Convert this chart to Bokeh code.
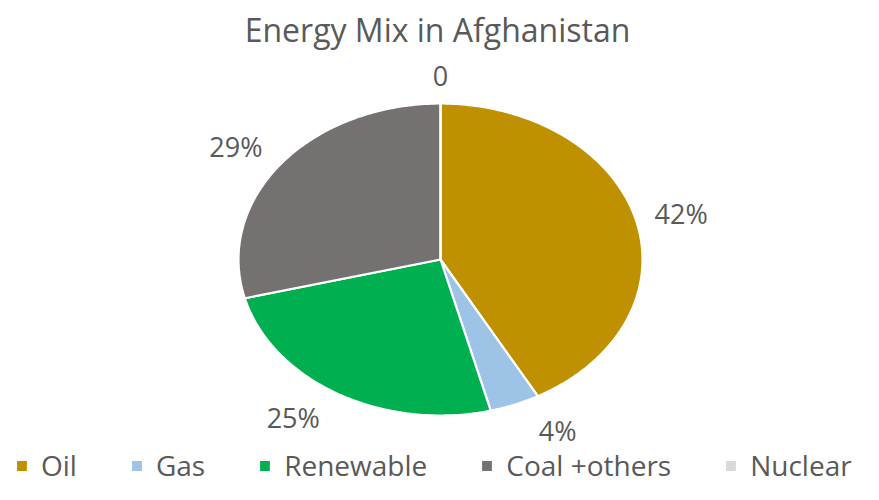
import numpy as np
from bokeh.plotting import figure
from bokeh.models import Range1d, Legend, LegendItem, Label, ColumnDataSource
from bokeh.core.properties import value
from bokeh.embed import file_html
from bokeh.resources import INLINE

# ---- data ----
title_text = "Energy Mix in Afghanistan"
categories = ["Oil", "Gas", "Renewable", "Coal +others", "Nuclear"]
shares = [42, 4, 25, 29, 0]
label_texts = ["42%", "4%", "25%", "29%", "0"]
colors = ["#BF9000", "#9DC3E6", "#00B050", "#767171", "#D9D9D9"]

# ---- layout ----
W, H = 863, 484
cx, cy = 440.0, 259.0
rx, ry = 202.0, 156.0
font = "Open Sans"
text_color = "#595959"

p = figure(width=W, height=H, output_backend="svg", toolbar_location=None,
           x_range=Range1d(0, W), y_range=Range1d(H, 0),
           min_border=0, outline_line_color=None)
p.axis.visible = False
p.grid.visible = False
p.background_fill_color = "white"

vals = np.array(shares, dtype=float)
fr = vals / vals.sum()
ends = np.cumsum(fr)
starts = ends - fr

renderers = []
for i, cat in enumerate(categories):
    n = max(2, int(fr[i] * 400) + 2)
    th = 2 * np.pi * np.linspace(starts[i], ends[i], n)
    xs = np.concatenate([[cx], cx + rx * np.sin(th)])
    ys = np.concatenate([[cy], cy - ry * np.cos(th)])
    r = p.patch(xs, ys, fill_color=colors[i], line_color="white", line_width=2.2)
    renderers.append(r)

# data labels positioned outside along slice mid-angle
mids = 2 * np.pi * (starts + ends) / 2
s, c = np.sin(mids), np.cos(mids)
lx = cx + rx * s + 45 * np.tanh(5 * s)
ly = cy - (ry + 28) * c
src = ColumnDataSource(dict(x=lx, y=ly, t=label_texts))
p.text(x="x", y="y", text="t", source=src, text_align="center", text_baseline="middle",
       text_font=value(font), text_font_size="27px", text_color=text_color)

p.add_layout(Label(x=437, y=29, text=title_text, text_align="center", text_baseline="middle",
                   text_font=font, text_font_size="32px", text_color=text_color))

items = [LegendItem(label=cat, renderers=[r]) for cat, r in zip(categories, renderers)]
legend = Legend(items=items, orientation="horizontal", location=(14, 0),
                glyph_width=15, glyph_height=15, label_standoff=12, spacing=52,
                label_text_font=font, label_text_font_size="28px", label_text_color=text_color,
                background_fill_alpha=0, border_line_alpha=0, padding=0, margin=0)
p.add_layout(legend)

open("out.html", "w").write(file_html(p, INLINE))
